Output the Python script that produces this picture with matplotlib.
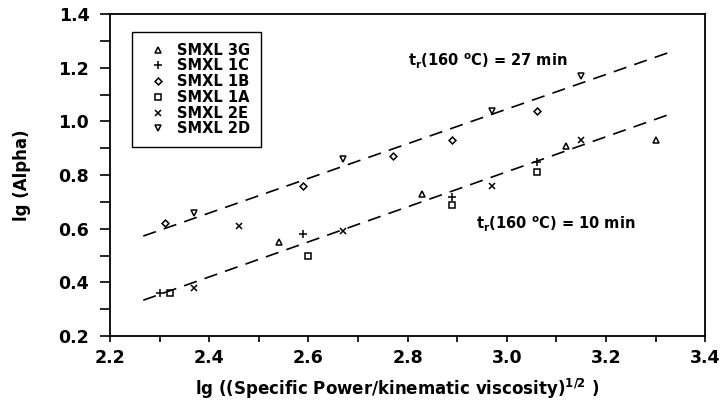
import matplotlib.pyplot as plt
import numpy as np

plt.rcParams["font.family"] = ["DejaVu Sans"]
plt.rcParams["font.weight"] = "bold"
plt.rcParams["mathtext.fontset"] = "dejavusans"
plt.rcParams["mathtext.default"] = "bf"

# measured points, one list pair per sample
series_names = ["SMXL 3G", "SMXL 1C", "SMXL 1B", "SMXL 1A", "SMXL 2E", "SMXL 2D"]
series_markers = ["^", "+", "D", "s", "x", "v"]
x_3g = [2.54, 2.83, 3.12, 3.30]
y_3g = [0.55, 0.73, 0.91, 0.93]
x_1c = [2.30, 2.59, 2.89, 3.06]
y_1c = [0.36, 0.58, 0.72, 0.85]
x_1b = [2.31, 2.59, 2.77, 2.89, 3.06]
y_1b = [0.62, 0.76, 0.87, 0.93, 1.04]
x_1a = [2.32, 2.60, 2.89, 3.06]
y_1a = [0.36, 0.50, 0.69, 0.81]
x_2e = [2.37, 2.46, 2.67, 2.97, 3.15]
y_2e = [0.38, 0.61, 0.59, 0.76, 0.93]
x_2d = [2.37, 2.67, 2.97, 3.15]
y_2d = [0.66, 0.86, 1.04, 1.17]

# fitted lines (end points)
fit_x = [2.267, 3.335]
fit_27 = [0.573, 1.262]
fit_10 = [0.334, 1.031]

fig, ax = plt.subplots(figsize=(7.24, 4.13), dpi=100)
fig.subplots_adjust(left=0.152, right=0.974, top=0.966, bottom=0.186)

data = [(x_3g, y_3g), (x_1c, y_1c), (x_1b, y_1b), (x_1a, y_1a), (x_2e, y_2e), (x_2d, y_2d)]
sizes = [5, 6, 3.5, 4.5, 5, 5]
for (xs, ys), name, mk, ms in zip(data, series_names, series_markers, sizes):
    ax.plot(xs, ys, linestyle="none", marker=mk, markersize=ms,
            markerfacecolor="none", markeredgecolor="black", markeredgewidth=1.1,
            color="black", label=name)

ax.plot(fit_x, fit_27, color="black", linestyle=(0, (8, 5)), linewidth=1.2)
ax.plot(fit_x, fit_10, color="black", linestyle=(0, (8, 5)), linewidth=1.2)

ax.text(2.80, 1.205, r"t$_\mathbf{r}$(160 $^\mathbf{o}$C) = 27 min", fontsize=10.5, fontweight="bold")
ax.text(2.937, 0.60, r"t$_\mathbf{r}$(160 $^\mathbf{o}$C) = 10 min", fontsize=10.5, fontweight="bold")

ax.set_xlim(2.2, 3.4)
ax.set_ylim(0.2, 1.4)
ax.set_xticks(np.arange(2.2, 3.41, 0.2))
ax.set_yticks(np.arange(0.2, 1.41, 0.2))
ax.set_xticks(np.arange(2.3, 3.4, 0.2), minor=True)
ax.set_yticks(np.arange(0.3, 1.4, 0.2), minor=True)
ax.xaxis.set_major_formatter(plt.FormatStrFormatter("%.1f"))
ax.yaxis.set_major_formatter(plt.FormatStrFormatter("%.1f"))
ax.tick_params(which="both", direction="out", width=1.2, labelsize=12.5)
ax.tick_params(axis="x", which="both", length=4, pad=5)
ax.tick_params(axis="y", which="both", length=7, pad=8)
for lab in ax.get_xticklabels() + ax.get_yticklabels():
    lab.set_fontweight("bold")
for sp in ax.spines.values():
    sp.set_linewidth(1.3)

ax.set_xlabel(r"lg ((Specific Power/kinematic viscosity)$^{1/2}$ )", fontsize=12,
              fontweight="bold")
ax.xaxis.set_label_coords(0.482, -0.125)
ax.set_ylabel("lg (Alpha)", fontsize=12, fontweight="bold", labelpad=20)

leg = ax.legend(loc="upper left", bbox_to_anchor=(0.037, 0.945), frameon=True,
                fancybox=False, edgecolor="black", framealpha=1,
                prop={"size": 10.5, "weight": "bold"}, handlelength=2.0,
                handletextpad=0.3, labelspacing=0.05, borderpad=0.75, borderaxespad=0)
leg.get_frame().set_linewidth(1.0)

fig.savefig("out.png", dpi=100)
